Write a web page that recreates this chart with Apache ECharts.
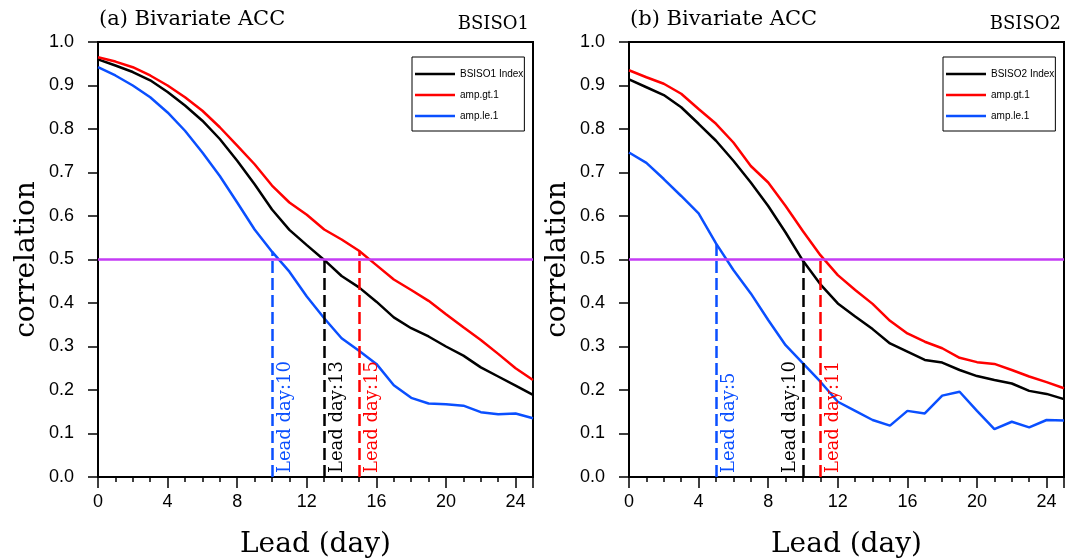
<!DOCTYPE html>
<html>
<head>
<meta charset="utf-8">
<script src="https://cdn.jsdelivr.net/npm/echarts@6/dist/echarts.min.js"></script>
<style>
  html, body { margin: 0; padding: 0; background: #fff; }
  #acc_chart { width: 1070px; height: 560px; }
</style>
</head>
<body>
<div id="acc_chart"></div>
<script>
// lead time (day)
var days = [0,1,2,3,4,5,6,7,8,9,10,11,12,13,14,15,16,17,18,19,20,21,22,23,24,25];

// (a) BSISO1
var bsiso1Index = [0.960,0.946,0.931,0.912,0.885,0.854,0.819,0.777,0.727,0.673,0.615,0.568,0.533,0.499,0.462,0.436,0.403,0.367,0.342,0.323,0.300,0.279,0.252,0.231,0.210,0.189];
var bsiso1Gt    = [0.965,0.955,0.942,0.923,0.900,0.873,0.842,0.804,0.762,0.719,0.670,0.631,0.603,0.569,0.546,0.520,0.487,0.454,0.430,0.405,0.374,0.344,0.315,0.283,0.250,0.223];
var bsiso1Le    = [0.942,0.923,0.900,0.873,0.838,0.796,0.746,0.692,0.631,0.569,0.518,0.472,0.415,0.365,0.319,0.290,0.260,0.211,0.182,0.169,0.167,0.164,0.149,0.144,0.146,0.135];

// (b) BSISO2
var bsiso2Index = [0.914,0.896,0.878,0.850,0.812,0.773,0.727,0.677,0.623,0.562,0.497,0.443,0.399,0.369,0.340,0.307,0.288,0.269,0.263,0.246,0.232,0.223,0.215,0.198,0.191,0.179];
var bsiso2Gt    = [0.935,0.919,0.904,0.881,0.846,0.812,0.769,0.715,0.677,0.623,0.565,0.510,0.464,0.430,0.398,0.359,0.330,0.311,0.296,0.274,0.264,0.260,0.246,0.231,0.218,0.204];
var bsiso2Le    = [0.746,0.722,0.685,0.646,0.606,0.537,0.476,0.422,0.361,0.303,0.261,0.219,0.173,0.152,0.131,0.118,0.152,0.146,0.187,0.196,0.152,0.110,0.127,0.114,0.131,0.130];

// lead day where ACC drops to 0.5 : [index, gt, le]
var leadDay1 = [13, 15, 10];
var leadDay2 = [10, 11, 5];

var xTicks = [0, 4, 8, 12, 16, 20, 24];
var threshold = 0.5;

var BLACK = '#000000', RED = '#ff0000', BLUE = '#0a4fff', MAGENTA = '#c43cf5';
var SERIF = 'DejaVu Serif';
var SANS = 'Liberation Sans';

var myChart = echarts.init(document.getElementById('acc_chart'));

function pairs(arr) {
  return days.map(function (d, i) { return [d, arr[i]]; });
}

// vertical dashed line from 0 up to the curve, with a rotated label
// labelLeft: put the text on the left side of the dashed line
function leadMark(arr, lead, color, withThreshold, labelLeft) {
  var data = [];
  if (withThreshold) {
    data.push({ yAxis: threshold, lineStyle: { color: MAGENTA, type: 'solid', width: 2.5 }, label: { show: false } });
  }
  data.push([
    { coord: [lead, 0], lineStyle: { color: color, type: [12, 5], width: 2.5 } },
    { coord: [lead, arr[lead]] }
  ]);
  return {
    symbol: 'none',
    silent: true,
    animation: false,
    label: {
      show: true,
      position: labelLeft ? 'insideStartTop' : 'insideStartBottom',
      distance: 4,
      formatter: 'Lead day:' + lead,
      color: color,
      fontFamily: SERIF,
      fontSize: 18
    },
    data: data
  };
}

function lineSeries(name, arr, color, xIdx, yIdx, lead, withThreshold, labelLeft) {
  return {
    name: name,
    type: 'line',
    xAxisIndex: xIdx,
    yAxisIndex: yIdx,
    data: pairs(arr),
    symbol: 'none',
    smooth: false,
    lineStyle: { color: color, width: 2.5 },
    itemStyle: { color: color },
    z: 3,
    markLine: leadMark(arr, lead, color, withThreshold, labelLeft)
  };
}

function minorX(gridIdx) {
  return {
    type: 'value', gridIndex: gridIdx, position: 'bottom', min: 0, max: 25, interval: 1,
    axisLine: { show: false },
    axisTick: { show: true, length: 5, lineStyle: { color: BLACK, width: 1.5 } },
    axisLabel: { show: false },
    splitLine: { show: false }
  };
}

function majorX(gridIdx) {
  return {
    type: 'value', gridIndex: gridIdx, position: 'bottom', min: 0, max: 25, interval: 4,
    name: 'Lead (day)', nameLocation: 'middle', nameGap: 54,
    nameTextStyle: { fontFamily: SERIF, fontSize: 28, color: BLACK },
    axisLine: { show: true, lineStyle: { color: BLACK, width: 2 } },
    axisTick: { show: true, length: 11, lineStyle: { color: BLACK, width: 1.5 } },
    axisLabel: {
      fontFamily: SANS, fontSize: 18, color: BLACK, margin: 16,
      formatter: function (v) { return xTicks.indexOf(v) >= 0 ? String(v) : ''; }
    },
    splitLine: { show: false }
  };
}

function yAx(gridIdx) {
  return {
    type: 'value', gridIndex: gridIdx, min: 0, max: 1, interval: 0.1,
    name: 'correlation', nameLocation: 'middle', nameGap: 57, nameRotate: 90,
    nameTextStyle: { fontFamily: SERIF, fontSize: 28, color: BLACK },
    axisLine: { show: true, lineStyle: { color: BLACK, width: 2 } },
    axisTick: { show: true, length: 10, lineStyle: { color: BLACK, width: 1.5 } },
    axisLabel: {
      fontFamily: SANS, fontSize: 18, color: BLACK, margin: 24,
      formatter: function (v) { return v.toFixed(1); }
    },
    splitLine: { show: false }
  };
}

function legendBox(left, first) {
  return {
    left: left, top: 57,
    orient: 'vertical',
    selectedMode: false,
    icon: 'rect',
    itemWidth: 40, itemHeight: 2.5, itemGap: 11,
    borderColor: BLACK, borderWidth: 1,
    padding: [12, 1, 10, 3],
    textStyle: { fontFamily: SANS, fontSize: 10, color: BLACK },
    data: [first, 'amp.gt.1', 'amp.le.1']
  };
}

function titleText(text, pos) {
  return echarts.util.extend({
    text: text,
    textStyle: { fontFamily: SERIF, fontSize: pos.size, fontWeight: 'normal', color: BLACK }
  }, pos.place);
}

var option = {
  backgroundColor: '#fff',
  animation: false,
  title: [
    titleText('(a) Bivariate ACC', { size: 21, place: { left: 94, top: 4 } }),
    titleText('BSISO1', { size: 18, place: { right: 536, top: 10 } }),
    titleText('(b) Bivariate ACC', { size: 21, place: { left: 625, top: 4 } }),
    titleText('BSISO2', { size: 18, place: { right: 4, top: 10 } })
  ],
  legend: [legendBox(412, 'BSISO1 Index'), legendBox(943, 'BSISO2 Index')],
  grid: [
    { left: 98, right: 537, top: 42, bottom: 83, outerBoundsMode: 'none', show: true, borderColor: BLACK, borderWidth: 2, backgroundColor: 'transparent' },
    { left: 629, right: 6, top: 42, bottom: 83, outerBoundsMode: 'none', show: true, borderColor: BLACK, borderWidth: 2, backgroundColor: 'transparent' }
  ],
  xAxis: [minorX(0), majorX(0), minorX(1), majorX(1)],
  yAxis: [yAx(0), yAx(1)],
  series: [
    lineSeries('BSISO1 Index', bsiso1Index, BLACK, 1, 0, leadDay1[0], true, false),
    lineSeries('amp.gt.1', bsiso1Gt, RED, 1, 0, leadDay1[1], false, false),
    lineSeries('amp.le.1', bsiso1Le, BLUE, 1, 0, leadDay1[2], false, false),
    lineSeries('BSISO2 Index', bsiso2Index, BLACK, 3, 1, leadDay2[0], true, true),
    lineSeries('amp.gt.1', bsiso2Gt, RED, 3, 1, leadDay2[1], false, false),
    lineSeries('amp.le.1', bsiso2Le, BLUE, 3, 1, leadDay2[2], false, false)
  ]
};

myChart.setOption(option);
</script>
</body>
</html>
